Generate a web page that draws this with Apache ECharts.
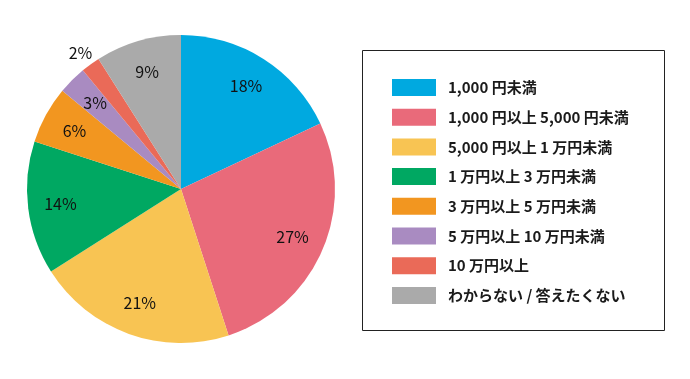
<!DOCTYPE html>
<html><head><meta charset="utf-8">
<script src="https://cdn.jsdelivr.net/npm/echarts@6/dist/echarts.min.js"></script>
<style>html,body{margin:0;padding:0;background:#fff}#c{width:690px;height:379px}</style>
</head><body><div id="c"></div>
<script>
var categories = ['1,000 円未満','1,000 円以上 5,000 円未満','5,000 円以上 1 万円未満','1 万円以上 3 万円未満','3 万円以上 5 万円未満','5 万円以上 10 万円未満','10 万円以上','わからない / 答えたくない'];
var values = [18, 27, 21, 14, 6, 3, 2, 9];
var colors = ['#00A9E0','#E96A7A','#F8C453','#00A862','#F29620','#A98BC1','#EA6A58','#AAAAAA'];
var outsideLabels = ['10 万円以上'];

var fontFamily = '"Noto Sans CJK JP", "Noto Sans", sans-serif';
var data = categories.map(function(n,i){ return {name:n, value:values[i], itemStyle:{color:colors[i]}}; });
var labelData = categories.map(function(n,i){
  var o = {name:n, value:values[i]};
  if (outsideLabels.indexOf(n) >= 0) o.label = {show:false};
  return o;
});
var outData = categories.map(function(n,i){
  var o = {name:n, value:values[i]};
  o.label = {show: outsideLabels.indexOf(n) >= 0};
  return o;
});
var chart = echarts.init(document.getElementById('c'));
chart.setOption({
  animation:false,
  color: colors,
  graphic:[{type:'rect', shape:{x:362.5,y:50.5,width:302,height:280}, style:{fill:'none', stroke:'#222', lineWidth:1}}],
  legend:{
    orient:'vertical', left:392, top:79, padding:0, itemWidth:44, itemHeight:17, itemGap:12.7,
    icon:'rect', data:categories,
    textStyle:{fontFamily:fontFamily, fontSize:15, fontWeight:'bold', color:'#1a1a1a', padding:[0,0,0,7]}
  },
  series:[
    {type:'pie', center:[181,189], radius:[0,154], startAngle:90, clockwise:true,
     data:data, label:{show:false}, labelLine:{show:false}, silent:true},
    {type:'pie', center:[181,189], radius:[83,154], startAngle:90, clockwise:true, silent:true,
     data:labelData, itemStyle:{color:'rgba(0,0,0,0)'}, legendHoverLink:false,
     label:{show:true, position:'inside', formatter:'{c}%', fontFamily:fontFamily, fontSize:16, color:'#111'}},
    {type:'pie', center:[181,189], radius:[0,154], startAngle:90, clockwise:true, silent:true,
     data:outData, itemStyle:{color:'rgba(0,0,0,0)'},
     label:{position:'outside', formatter:'{c}%', fontFamily:fontFamily, fontSize:16, color:'#111', offset:[8,-10]},
     labelLine:{show:false, length:2, length2:0}}
  ]
});
</script></body></html>
